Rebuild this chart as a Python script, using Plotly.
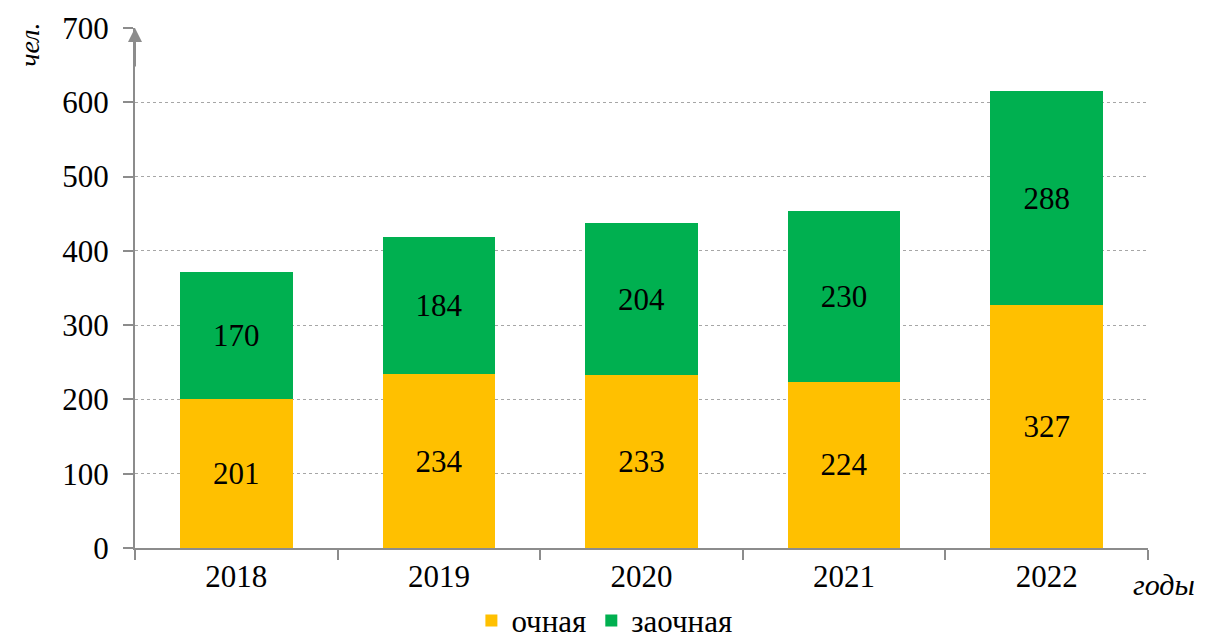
import plotly.graph_objects as go

# data
years = ["2018", "2019", "2020", "2021", "2022"]
full_time = [201, 234, 233, 224, 327]    # очная
part_time = [170, 184, 204, 230, 288]    # заочная
y_ticks = [0, 100, 200, 300, 400, 500, 600, 700]

FONT = "Liberation Serif"
AXIS_GRAY = "#8c8c8c"

fig = go.Figure()
fig.add_trace(go.Bar(
    x=years, y=full_time, name="очная",
    marker=dict(color="#FFC000", line=dict(width=0)),
    text=full_time, textposition="inside", insidetextanchor="middle",
    textangle=0, textfont=dict(family=FONT, size=31, color="black"),
))
fig.add_trace(go.Bar(
    x=years, y=part_time, name="заочная",
    marker=dict(color="#00B050", line=dict(width=0)),
    text=part_time, textposition="inside", insidetextanchor="middle",
    textangle=0, textfont=dict(family=FONT, size=31, color="black"),
))

# the page body has an 8px margin, so the figure is a bit smaller than the window
fig.update_layout(
    barmode="stack",
    bargap=0.445,
    width=1200, height=633,
    margin=dict(l=127, r=60, t=20, b=93, autoexpand=False),
    plot_bgcolor="white", paper_bgcolor="white",
    font=dict(family=FONT, size=31, color="black"),
    showlegend=True,
    legend=dict(orientation="h", xref="container", yref="container",
                x=0.497, xanchor="center", y=0.032, yanchor="middle",
                font=dict(family=FONT, size=31), itemwidth=30, traceorder="normal"),
    uniformtext=dict(minsize=31, mode="show"),
)

fig.update_xaxes(
    range=[-0.5, 4.5], showline=True, linecolor=AXIS_GRAY, linewidth=2,
    ticks="outside", tickson="boundaries", ticklen=10, tickcolor=AXIS_GRAY, tickwidth=2,
    tickfont=dict(family=FONT, size=31), showgrid=False, automargin=False,
)
fig.update_yaxes(
    range=[0, 700], tickvals=y_ticks, showline=True, linecolor=AXIS_GRAY, linewidth=2,
    ticks="outside", ticklen=10, tickcolor=AXIS_GRAY, tickwidth=2,
    tickfont=dict(family=FONT, size=31), ticklabelstandoff=8, automargin=False,
    showgrid=True, gridcolor="#a6a6a6", griddash="dot", gridwidth=1, zeroline=False,
)

# arrow on top of the value axis
fig.add_annotation(
    x=0, y=1, xref="paper", yref="paper", ax=0, ay=40,
    showarrow=True, arrowhead=2, arrowsize=1.4, arrowwidth=2, arrowcolor=AXIS_GRAY, text="",
)
# axis captions
fig.add_annotation(
    x=-0.104, y=0.967, xref="paper", yref="paper", text="<i>чел.</i>", showarrow=False,
    textangle=-90, font=dict(family=FONT, size=28), xanchor="center", yanchor="middle",
)
fig.add_annotation(
    x=1.048, y=-0.071, xref="paper", yref="paper", text="<i>годы</i>", showarrow=False,
    font=dict(family=FONT, size=30), xanchor="right", yanchor="middle",
)

fig.write_html("out.html")
